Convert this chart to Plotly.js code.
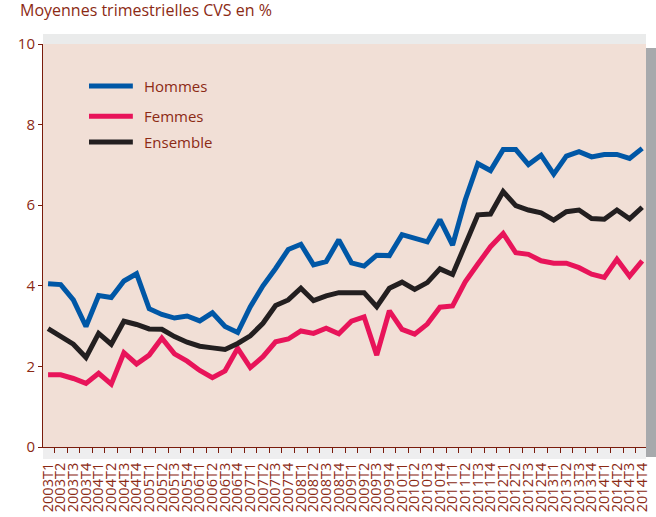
<!DOCTYPE html>
<html>
<head>
<meta charset="utf-8">
<script src="https://cdn.plot.ly/plotly-3.0.1.min.js"></script>
<style>html,body{margin:0;padding:0;background:#fff;}#chart{width:656px;height:517px;}</style>
</head>
<body>
<div id="chart"></div>
<script>
const quarters = ["2003T1","2003T2","2003T3","2003T4","2004T1","2004T2","2004T3","2004T4",
"2005T1","2005T2","2005T3","2005T4","2006T1","2006T2","2006T3","2006T4",
"2007T1","2007T2","2007T3","2007T4","2008T1","2008T2","2008T3","2008T4",
"2009T1","2009T2","2009T3","2009T4","2010T1","2010T2","2010T3","2010T4",
"2011T1","2011T2","2011T3","2011T4","2012T1","2012T2","2012T3","2012T4",
"2013T1","2013T2","2013T3","2013T4","2014T1","2014T2","2014T3","2014T4"];

const hommes = [4.05,4.03,3.65,2.99,3.76,3.71,4.12,4.30,3.43,3.29,3.20,3.25,
3.13,3.33,2.99,2.84,3.48,4.00,4.43,4.90,5.03,4.52,4.60,5.14,
4.57,4.49,4.76,4.75,5.27,5.19,5.09,5.64,5.01,6.13,7.03,6.86,
7.38,7.38,7.01,7.24,6.77,7.22,7.33,7.20,7.26,7.26,7.16,7.41];

const femmes = [1.79,1.79,1.70,1.58,1.83,1.56,2.34,2.06,2.28,2.70,2.31,2.13,
1.90,1.72,1.89,2.45,1.97,2.24,2.61,2.68,2.88,2.82,2.95,2.81,
3.12,3.23,2.28,3.38,2.92,2.80,3.05,3.47,3.50,4.10,4.54,4.97,
5.30,4.82,4.78,4.62,4.56,4.56,4.45,4.29,4.21,4.66,4.24,4.62];

const ensemble = [2.94,2.76,2.55,2.22,2.82,2.55,3.12,3.04,2.93,2.92,2.74,2.60,
2.50,2.46,2.42,2.57,2.76,3.07,3.51,3.65,3.94,3.63,3.75,3.83,
3.83,3.83,3.48,3.94,4.09,3.91,4.08,4.42,4.28,5.05,5.76,5.78,
6.34,5.99,5.88,5.81,5.63,5.84,5.88,5.67,5.65,5.88,5.66,5.95];

const seriesNames = ["Hommes","Femmes","Ensemble"];
const seriesColors = ["#0057a6","#e8145a","#231f20"];
const seriesValues = [hommes, femmes, ensemble];
const textColor = "#8c2a14";
const axisColor = "#7a1c0c";

const traces = seriesNames.map((n, i) => ({
  x: quarters, y: seriesValues[i], name: n, type: "scatter", mode: "lines",
  line: {color: seriesColors[i], width: 5}, showlegend: false
}));

// hand-drawn legend (longer line swatches, as in the original)
const legendY = [0.896, 0.821, 0.757];
const legendShapes = seriesNames.map((n, i) => ({
  type: "line", xref: "paper", yref: "paper", x0: 0.0763, x1: 0.149, y0: legendY[i], y1: legendY[i],
  line: {color: seriesColors[i], width: 5}
}));
const legendAnnotations = seriesNames.map((n, i) => ({
  text: n, xref: "paper", yref: "paper", x: 0.164, y: legendY[i], xanchor: "left", yanchor: "middle",
  showarrow: false, font: {size: 15, color: textColor}
}));

const layout = {
  width: 656, height: 517,
  margin: {l: 43, r: 10, t: 44, b: 70, pad: 0},
  paper_bgcolor: "#ffffff",
  plot_bgcolor: "#f1dfd6",
  font: {family: "Open Sans, sans-serif", color: textColor, size: 15},
  title: {text: "Moyennes trimestrielles CVS en %", x: 20/656, xref: "container", xanchor: "left",
          y: 1 - 5/517, yref: "container", yanchor: "top",
          font: {family: "Open Sans, sans-serif", size: 16, color: textColor}},
  showlegend: false,
  xaxis: {type: "category", range: [-0.4, 47.3], tickson: "boundaries",
          tickmode: "linear", tick0: 0, dtick: 1,
          ticks: "outside", ticklen: 5, tickcolor: axisColor, tickwidth: 1,
          showline: true, linecolor: axisColor, linewidth: 1,
          showgrid: false, zeroline: false, tickangle: -90, ticklabelstandoff: 9,
          tickfont: {size: 14.5, color: textColor}, automargin: false},
  yaxis: {range: [0, 10], dtick: 2, tick0: 0, ticks: "outside", ticklen: 4,
          tickcolor: axisColor, showline: true, linecolor: axisColor, linewidth: 1,
          showgrid: false, zeroline: false, tickfont: {size: 15, color: textColor},
          automargin: false},
  shapes: [
    {type: "rect", xref: "paper", yref: "paper", x0: 1.0, x1: 1.02, y0: -0.025, y1: 0.99,
     fillcolor: "#a7a9ac", line: {width: 0}, layer: "below"},
    {type: "rect", xref: "paper", yref: "paper", x0: 0.0, x1: 1.0, y0: 1.0, y1: 1.025,
     fillcolor: "rgba(160,162,166,0.22)", line: {width: 0}, layer: "below"},
    {type: "rect", xref: "paper", yref: "paper", x0: 0.0, x1: 1.0, y0: -0.03, y1: 0.0,
     fillcolor: "rgba(160,162,166,0.18)", line: {width: 0}, layer: "below"}
  ].concat(legendShapes),
  annotations: legendAnnotations
};

Plotly.newPlot("chart", traces, layout, {displayModeBar: false, staticPlot: true});
</script>
</body>
</html>
